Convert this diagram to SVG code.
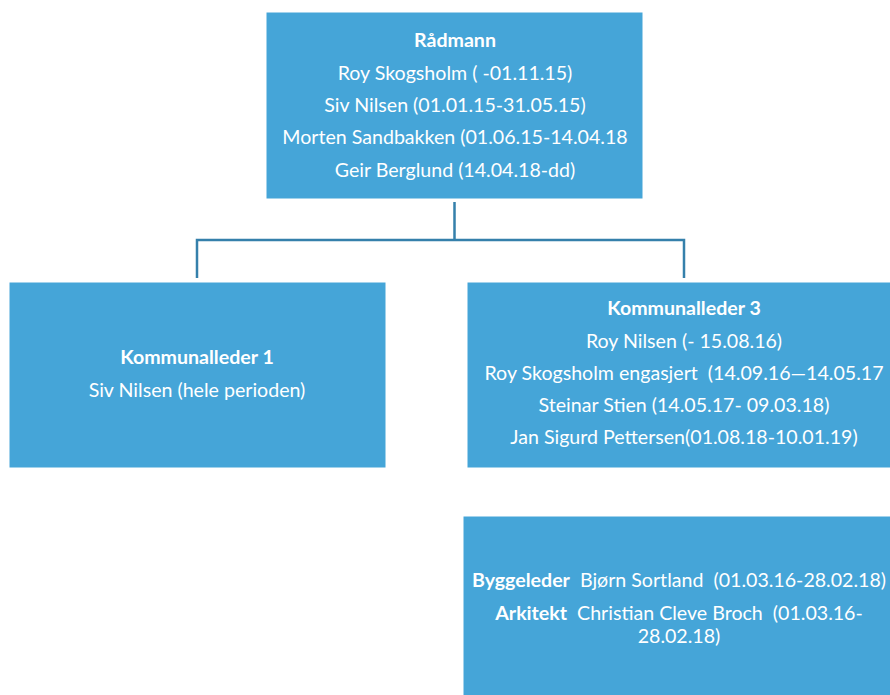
<svg xmlns="http://www.w3.org/2000/svg" width="890" height="695" viewBox="0 0 890 695">
<style>
.box{fill:#45a5d8;stroke:#ffffff;stroke-width:1}
.t{font-family:Lato,"Open Sans","Liberation Sans",sans-serif;font-size:19.6px;fill:#ffffff;text-anchor:middle}
.b{font-weight:bold}
.conn{fill:none;stroke:#3580ab;stroke-width:2.5}
</style>
<rect width="890" height="695" fill="#ffffff"/>
<g id="connectors">
<path class="conn" d="M454.5,202 V240 M197,278 V240 H684 V278"/>
</g>
<g id="radmann">
<rect class="box" x="266" y="12" width="377" height="187"/>
<text class="t b" x="455" y="47">Rådmann</text>
<text class="t" x="455" y="80">Roy Skogsholm ( -01.11.15)</text>
<text class="t" x="455" y="112">Siv Nilsen (01.01.15-31.05.15)</text>
<text class="t" x="455" y="144">Morten Sandbakken (01.06.15-14.04.18</text>
<text class="t" x="455" y="177">Geir Berglund (14.04.18-dd)</text>
</g>
<g id="kommunalleder1">
<rect class="box" x="9" y="282" width="377" height="186"/>
<text class="t b" x="197" y="364">Kommunalleder 1</text>
<text class="t" x="197" y="397">Siv Nilsen (hele perioden)</text>
</g>
<g id="kommunalleder3">
<rect class="box" x="467" y="282" width="430" height="186"/>
<text class="t b" x="684" y="315">Kommunalleder 3</text>
<text class="t" x="684" y="348">Roy Nilsen (- 15.08.16)</text>
<text class="t" x="684" y="380" xml:space="preserve">Roy Skogsholm engasjert  (14.09.16—14.05.17</text>
<text class="t" x="684" y="412">Steinar Stien (14.05.17- 09.03.18)</text>
<text class="t" x="684" y="444">Jan Sigurd Pettersen(01.08.18-10.01.19)</text>
</g>
<g id="bygg">
<rect class="box" x="463" y="516" width="435" height="185"/>
<text class="t" x="679" y="587" xml:space="preserve"><tspan class="b">Byggeleder</tspan>  Bjørn Sortland  (01.03.16-28.02.18)</text>
<text class="t" x="679" y="620" xml:space="preserve"><tspan class="b">Arkitekt</tspan>  Christian Cleve Broch  (01.03.16-</text>
<text class="t" x="679" y="643">28.02.18)</text>
</g>
</svg>
